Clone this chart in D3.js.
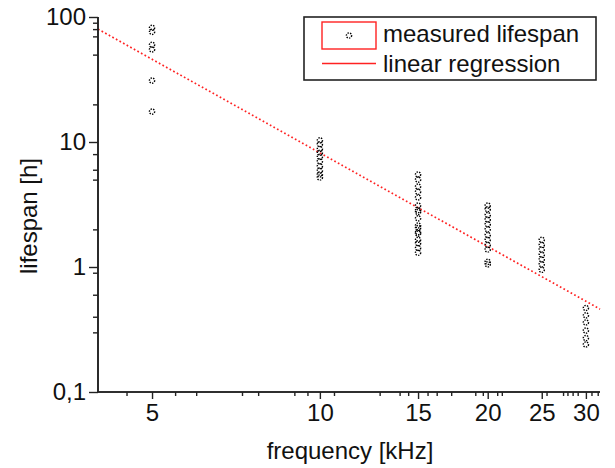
<!DOCTYPE html>
<html lang="en">
<head>
<meta charset="utf-8">
<title>lifespan vs frequency</title>
<script src="https://d3js.org/d3.v7.min.js"></script>
<style>
  body { margin: 0; background: #fff; }
  svg text { font-family: "Liberation Sans", Arial, sans-serif; fill: #111; }
</style>
</head>
<body>
<script>
// measured lifespan [h] per frequency [kHz]
var freqs = [5, 10, 15, 20, 25, 30];
var life5  = [82, 76, 60, 55, 31, 17.5];
var life10 = [10.3, 9.6, 8.8, 8.2, 7.6, 7.0, 6.4, 5.9, 5.5, 5.2];
var life15 = [5.5, 5.0, 4.4, 4.0, 3.6, 3.1, 2.85, 2.75, 2.45, 2.15, 2.05, 1.9, 1.85, 1.65, 1.55, 1.42, 1.3];
var life20 = [3.1, 2.9, 2.6, 2.4, 2.2, 2.0, 1.8, 1.65, 1.5, 1.38, 1.1, 1.05];
var life25 = [1.65, 1.5, 1.38, 1.25, 1.15, 1.05, 0.95];
var life30 = [0.47, 0.41, 0.36, 0.31, 0.27, 0.24];

// linear regression (log-log), end points
var regression = [[4, 80], [31.8, 0.46]];

// axis ticks
var xTicks = [5, 10, 15, 20, 25, 30];
var xMinor = [4.5, 5.5, 6, 7.25, 7.75, 9, 9.5, 10.6, 12.8, 13.9, 14.4, 15.6, 16.2, 17.2, 19, 19.6, 20.8, 21.2, 25.5, 27.3, 27.8, 28.4, 29, 30.7, 31.5];
var yTicks = [0.1, 1, 10, 100];
var yTickLabels = ["0,1", "1", "10", "100"];
var yMinor = [0.3, 0.4, 0.6, 0.9, 2, 5, 6, 8, 20, 50, 70, 80, 90];

var w = 615, h = 468;
var pLeft = 98, pRight = 600, pTop = 17, pBottom = 392;
var fs = 24;

var svg = d3.select("body").append("svg")
    .attr("width", w)
    .attr("height", h);

var x = d3.scaleLog().domain([4, 31.8]).range([pLeft, pRight]);
var y = d3.scaleLog().domain([0.1, 100]).range([pBottom, pTop]);

// build points
var series = [life5, life10, life15, life20, life25, life30];
var points = [];
freqs.forEach(function(f, i) {
    series[i].forEach(function(v) { points.push({f: f, v: v}); });
});

// regression line (dotted red)
svg.append("path")
    .datum(regression)
    .attr("d", d3.line().x(function(d) { return x(d[0]); }).y(function(d) { return y(d[1]); }))
    .attr("fill", "none")
    .attr("stroke", "#f22")
    .attr("stroke-width", 1.7)
    .attr("stroke-dasharray", "1.7,2.4");

// markers
svg.selectAll("circle.pt")
    .data(points)
    .enter()
    .append("circle")
    .attr("class", "pt")
    .attr("cx", function(d) { return x(d.f); })
    .attr("cy", function(d) { return y(d.v); })
    .attr("r", 2.6)
    .attr("fill", "none")
    .attr("stroke", "#000")
    .attr("stroke-width", 1.4)
    .attr("stroke-dasharray", "1.4,1.2");

// x axis
var gx = svg.append("g").attr("transform", "translate(0," + pBottom + ")");
gx.call(d3.axisBottom(x).tickValues(xMinor).tickSize(4).tickFormat(""));
gx.append("g").call(d3.axisBottom(x).tickValues(xTicks).tickSize(7).tickPadding(5).tickFormat(d3.format("d")));
gx.selectAll("text").attr("font-size", fs).attr("font-family", "Liberation Sans, Arial, sans-serif").attr("fill", "#111");

// y axis
var gy = svg.append("g").attr("transform", "translate(" + pLeft + ",0)");
gy.call(d3.axisLeft(y).tickValues(yMinor).tickSize(5).tickFormat(""));
gy.append("g").call(d3.axisLeft(y).tickValues(yTicks).tickSize(9).tickPadding(3)
    .tickFormat(function(d, i) { return yTickLabels[i]; }));
gy.selectAll("text").attr("font-size", fs).attr("font-family", "Liberation Sans, Arial, sans-serif").attr("fill", "#111");

svg.selectAll(".domain").attr("stroke", "#222").attr("stroke-width", 1.6);
svg.selectAll(".tick line").attr("stroke", "#222").attr("stroke-width", 1.4);
// only the axis lines, no end caps
gx.selectAll(".domain").attr("d", "M" + pLeft + ",0H" + pRight);
gy.selectAll(".domain").attr("d", "M0," + pBottom + "V" + pTop);

// axis titles
svg.append("text")
    .attr("x", (pLeft + pRight) / 2 + 1)
    .attr("y", 459)
    .attr("text-anchor", "middle")
    .attr("font-size", fs)
    .text("frequency [kHz]");

svg.append("text")
    .attr("transform", "translate(37,216) rotate(-90)")
    .attr("text-anchor", "middle")
    .attr("font-size", fs)
    .text("lifespan [h]");

// legend
var lg = svg.append("g");
lg.append("rect")
    .attr("x", 304).attr("y", 17).attr("width", 292).attr("height", 63)
    .attr("fill", "#fff").attr("stroke", "#222").attr("stroke-width", 1.6);
lg.append("rect")
    .attr("x", 322).attr("y", 22).attr("width", 54).attr("height", 27)
    .attr("fill", "none").attr("stroke", "#f22").attr("stroke-width", 1.4);
lg.append("circle")
    .attr("cx", 349).attr("cy", 35.5).attr("r", 2.6)
    .attr("fill", "none").attr("stroke", "#000").attr("stroke-width", 1.4)
    .attr("stroke-dasharray", "1.4,1.2");
lg.append("line")
    .attr("x1", 322).attr("x2", 376).attr("y1", 63.5).attr("y2", 63.5)
    .attr("stroke", "#f22").attr("stroke-width", 1.4);
lg.append("text").attr("x", 383).attr("y", 42).attr("font-size", fs).text("measured lifespan");
lg.append("text").attr("x", 383).attr("y", 72).attr("font-size", fs).text("linear regression");
</script>
</body>
</html>
